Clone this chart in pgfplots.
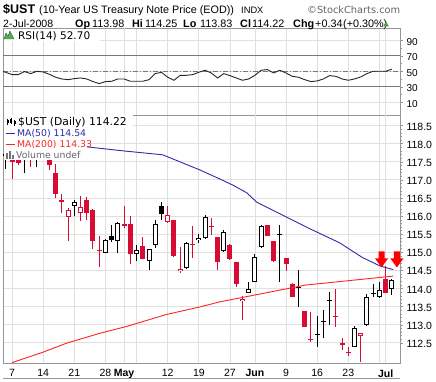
\documentclass[border=0pt]{standalone}
\usepackage{pgfplots}
\pgfplotsset{compat=1.18}
\usepackage{pgfplotstable}
\usepackage{fontspec}
\setmainfont{Liberation Sans}
\newfontfamily\dvs{DejaVu Sans}

\definecolor{cred}{RGB}{214,12,52}
\definecolor{maA}{RGB}{45,45,170}
\definecolor{maB}{RGB}{255,35,35}
\definecolor{gridc}{RGB}{224,224,224}
\definecolor{gridm}{RGB}{192,192,192}
\definecolor{axc}{RGB}{150,150,150}
\definecolor{rsiref}{RGB}{120,120,120}

\pgfdeclareplotmark{dnarrow}{%
  \pgfpathmoveto{\pgfpoint{-3pt}{8pt}}%
  \pgfpathlineto{\pgfpoint{3pt}{8pt}}%
  \pgfpathlineto{\pgfpoint{3pt}{1pt}}%
  \pgfpathlineto{\pgfpoint{6.5pt}{1pt}}%
  \pgfpathlineto{\pgfpoint{0pt}{-8pt}}%
  \pgfpathlineto{\pgfpoint{-6.5pt}{1pt}}%
  \pgfpathlineto{\pgfpoint{-3pt}{1pt}}%
  \pgfpathclose
  \pgfusepathqfill}

% black, close > open (hollow)
\pgfplotstableread{
i O H L C
4 117.60 117.90 117.34 117.70
5 117.70 117.95 117.62 117.80
10 116.27 116.44 116.00 116.40
15 114.99 115.36 114.97 115.34
17 115.31 115.83 114.97 115.81
20 114.95 115.20 114.75 115.06
22 114.76 115.10 114.52 115.09
23 115.20 115.88 115.13 115.77
28 114.56 115.29 114.55 115.26
30 115.34 115.49 115.25 115.40
31 115.39 116.02 115.37 115.98
34 115.02 115.60 115.00 115.55
38 113.87 114.19 113.86 113.99
39 114.19 114.95 114.17 114.86
40 115.14 115.75 115.12 115.72
55 112.39 112.96 112.37 112.91
57 112.99 113.84 112.96 113.76
59 113.75 114.18 113.74 113.95
61 113.98 114.25 113.83 114.22
}\bh
% black, close < open (filled)
\pgfplotstableread{
i O H L C
-1 117.70 117.80 117.31 117.65
2 117.70 117.82 117.19 117.66
16 115.45 115.75 115.29 115.35
24 116.29 116.38 115.88 116.05
43 115.49 115.75 114.19 115.47
46 114.04 114.52 113.48 114.02
49 112.75 113.23 112.39 112.72
50 113.09 113.40 112.62 113.07
51 113.68 113.90 112.99 113.66
58 113.87 114.13 113.76 113.85
}\bf
% red, close > open (hollow)
\pgfplotstableread{
i O H L C
9 115.98 116.21 115.30 116.16
11 116.07 116.56 115.86 116.26
25 115.84 116.29 115.80 116.02
27 114.47 115.15 114.43 114.55
37 113.64 113.80 113.14 113.72
56 112.68 112.76 111.98 112.76
}\rh
% red, close < open (filled)
\pgfplotstableread{
i O H L C
0 117.60 117.75 117.03 117.50
1 117.56 117.62 117.41 117.47
3 117.70 117.85 117.34 117.62
6 117.55 117.62 117.28 117.41
7 117.19 117.43 116.49 116.61
8 116.44 116.61 116.09 116.38
12 116.44 116.52 115.88 116.07
13 116.16 116.19 115.08 115.32
14 115.06 115.44 114.59 115.03
18 115.78 116.29 115.68 115.72
19 115.78 116.00 114.67 114.95
21 115.18 115.43 114.80 114.81
26 115.88 115.90 114.88 114.90
29 115.23 115.73 114.85 115.21
32 115.72 115.94 115.48 115.69
33 115.41 115.43 114.52 114.74
35 115.20 115.22 114.79 114.81
36 114.72 114.74 114.03 114.13
41 115.75 115.76 115.45 115.46
42 115.31 115.32 114.74 114.76
44 114.84 114.85 114.49 114.68
45 114.13 114.14 113.75 113.76
47 113.37 113.38 112.93 112.94
48 112.59 113.35 112.53 112.57
52 113.24 113.99 112.94 113.22
53 112.48 112.62 112.30 112.45
54 112.25 112.39 112.12 112.22
60 114.27 114.61 113.86 113.88
}\rf

\pgfplotsset{
  wick/.style={draw=none, no markers, forget plot, error bars/.cd, y dir=plus, y explicit, error mark=none, error bar style={draw=#1, line width=1pt}},
  body/.style={draw=none, no markers, forget plot, error bars/.cd, y dir=plus, y explicit, error mark=none, error bar style={draw=#1, line width=5pt}},
  inner/.style={draw=none, no markers, forget plot, error bars/.cd, y dir=plus, y explicit, error mark=none, error bar style={draw=white, line width=3pt}},
  common/.style={
    scale only axis, anchor=south west, width=397pt,
    xmin=-1.45, xmax=62.3,
    axis line style={axc},
    xtick={0,5,10,15,18,20,25,30,35,39,44,49,54,59,60},
    x tick style={draw=none},
    xmajorgrids, major x grid style={gridc, line width=0.8pt},
    extra x ticks={18,39,60}, extra x tick labels={},
    extra x tick style={grid=major, major grid style={gridm, line width=0.8pt}, tick style={draw=none}},
    ytick pos=right, yticklabel pos=right, tick align=outside,
    y tick style={axc}, major tick length=3pt, minor tick length=2pt,
    ymajorgrids, major y grid style={gridc, line width=0.8pt},
    clip mode=individual,
    scaled y ticks=false,
  },
}

\newcommand{\candleset}[3]{% table, colour, hollow?
  \addplot[wick=#2] table[x=i, y=L, y error expr=\thisrow{H}-\thisrow{L}] {#1};
  \addplot[body=#2] table[x=i, y expr={min(\thisrow{O},\thisrow{C})}, y error expr={max(abs(\thisrow{C}-\thisrow{O}),0.03)}] {#1};
  \ifx#3y
  \addplot[inner] table[x=i, y expr={min(\thisrow{O},\thisrow{C})+0.028}, y error expr={max(abs(\thisrow{C}-\thisrow{O})-0.056,0)}] {#1};
  \fi
}

\begin{document}
\begin{tikzpicture}[x=1pt,y=1pt]
\useasboundingbox (0,0) rectangle (436,382);
\fill[white] (0,0) rectangle (436,382);

% ---------- RSI panel ----------
\begin{axis}[common, at={(3pt,267pt)}, height=86.5pt,
  ymin=-6.4, ymax=105.2,
  ytick={10,30,50,70,90}, minor y tick num=1,
  xticklabels={},
  yticklabel style={font=\fontsize{10}{12}\selectfont, yshift=-1.5pt, /pgf/number format/assume math mode=true},
]
\addplot[rsiref, line width=0.9pt, forget plot] coordinates {(-1.45,70) (62.3,70)};
\addplot[rsiref, line width=0.9pt, forget plot] coordinates {(-1.45,30) (62.3,30)};
\addplot[rsiref, line width=0.7pt, dash pattern=on 5pt off 2pt on 1pt off 2pt, forget plot] coordinates {(-1.45,50) (62.3,50)};
\addplot[black!85, line width=0.9pt] coordinates {
(-1.45,49.5) (-1,48.7) (0,45.7) (1,45.7) (2,49.6) (3,47.0) (4,50.0) (5,49.1) (6,46.1) (7,42.3) (8,40.1) (9,39.2) (10,40.5) (11,41.4) (12,40.1) (13,36.7) (14,34.1) (15,36.7) (16,37.1) (17,40.1) (18,40.1) (19,37.1) (20,37.1) (21,37.1) (22,39.2) (23,47.0) (24,48.7) (25,42.3) (26,38.4) (27,44.8) (28,44.8) (29,45.7) (30,48.7) (31,51.3) (32,47.8) (33,41.4) (34,47.0) (35,44.4) (36,41.4) (37,38.4) (38,40.1) (39,44.8) (40,51.3) (41,52.2) (42,47.8) (43,51.3) (44,47.8) (45,43.5) (46,42.3) (47,39.2) (48,36.7) (49,37.5) (50,40.1) (51,44.4) (52,43.5) (53,40.1) (54,38.4) (55,40.1) (56,42.7) (57,47.0) (58,50.0) (59,50.0) (60,50.0) (61,52.7)
};
\end{axis}

% ---------- Price panel ----------
\begin{axis}[common, at={(3pt,19pt)}, height=248pt,
  ymin=111.94, ymax=118.79,
  ytick={112.5,113,113.5,114,114.5,115,115.5,116,116.5,117,117.5,118,118.5},
  minor y tick num=4,
  xticklabels={7,14,21,28,\textbf{May},,12,19,27,\textbf{Jun},9,16,23,,\textbf{Jul}},
  xticklabel style={font=\fontsize{10.5}{12}\selectfont},
  yticklabel style={font=\fontsize{10.5}{12}\selectfont, yshift=-1pt,
    /pgf/number format/.cd, fixed, fixed zerofill, precision=1, assume math mode=true},
]
\candleset{\rf}{cred}{n}
\candleset{\rh}{cred}{y}
\candleset{\bf}{black}{n}
\candleset{\bh}{black}{y}
\addplot[maB, line width=0.9pt] coordinates {
(0,111.95) (5.0,112.24) (8.8,112.49) (14.1,112.76) (18.4,112.95) (24.8,113.28) (30.2,113.49) (33.4,113.63) (46.2,114.06) (47.0,114.09) (61.2,114.34)};
\addplot[maA, line width=0.9pt] coordinates {
(12,117.91) (17.8,117.80) (24.2,117.69) (30.2,117.27) (33.4,117.02) (35.5,116.85) (37.7,116.64) (39.3,116.38) (43.5,116.02) (47.8,115.65) (52.6,115.26) (56.3,114.85) (59.1,114.62) (61.2,114.52)};
\addplot[only marks, mark=dnarrow, mark options={fill=red, draw=none}] coordinates {(59.34,114.80) (61.8,114.80)};
\end{axis}

% ---------- header ----------
\node[anchor=base west, inner sep=0] at (3,368.7) {\fontsize{12.5}{14}\selectfont\bfseries \$UST};
\node[anchor=base west, inner sep=0] at (39,368.7) {\fontsize{10.8}{13}\selectfont (10-Year US Treasury Note Price (EOD))};
\node[anchor=base west, inner sep=0] at (241,368.7) {\fontsize{9.3}{11}\selectfont INDX};
\node[anchor=base west, inner sep=0, text=black!60] at (307,368.7) {\dvs\fontsize{9.8}{11}\selectfont ©StockCharts.com};
\node[anchor=base west, inner sep=0] at (3,354.8) {\fontsize{10.6}{12}\selectfont 2-Jul-2008};
\node[anchor=base west, inner sep=0] at (75,354.8) {\fontsize{10.8}{12}\selectfont\bfseries Op};
\node[anchor=base west, inner sep=0] at (92,354.8) {\fontsize{10.8}{12}\selectfont 113.98};
\node[anchor=base west, inner sep=0] at (132,354.8) {\fontsize{10.8}{12}\selectfont\bfseries Hi};
\node[anchor=base west, inner sep=0] at (145,354.8) {\fontsize{10.8}{12}\selectfont 114.25};
\node[anchor=base west, inner sep=0] at (183,354.8) {\fontsize{10.8}{12}\selectfont\bfseries Lo};
\node[anchor=base west, inner sep=0] at (200,354.8) {\fontsize{10.8}{12}\selectfont 113.83};
\node[anchor=base west, inner sep=0] at (240,354.8) {\fontsize{10.8}{12}\selectfont\bfseries Cl};
\node[anchor=base west, inner sep=0] at (252,354.8) {\fontsize{10.8}{12}\selectfont 114.22};
\node[anchor=base west, inner sep=0] at (293,354.8) {\fontsize{10.8}{12}\selectfont\bfseries Chg};
\node[anchor=base west, inner sep=0] at (315,354.8) {\fontsize{10.8}{12}\selectfont +0.34};
\node[anchor=base west, inner sep=0] at (343,354.8) {\fontsize{10.8}{12}\selectfont (+0.30\%)};
\fill[green!45!black!70] (383,355.5) -- (389,355.5) -- (386,360.5) -- cycle;

% ---------- RSI label ----------
\fill[white] (3.5,341) rectangle (100,352.5);
\filldraw[fill=green!40!gray, draw=black!70, line width=0.4pt] (4,343) -- (6,349) -- (8,346) -- (10,351) -- (14,343) -- cycle;
\node[anchor=west, inner sep=0] at (18,346) {\dvs\fontsize{10.5}{12}\selectfont RSI(14) 52.70};

% ---------- price legend ----------
\fill[white] (3.5,254) rectangle (133,266.5);
\fill[white] (3.5,243) rectangle (83,254);
\fill[white] (3.5,232) rectangle (87,243);
\fill[white] (3.5,221.5) rectangle (80,232);
\draw[black, line width=0.8pt] (7.5,263) -- (7.5,257);
\fill[black] (6.5,258.5) rectangle (8.5,261.5);
\draw[black, line width=0.8pt] (11,264) -- (11,257.5);
\fill[black] (10,259) rectangle (12,263);
\draw[black, line width=0.8pt] (14.5,262) -- (14.5,256);
\fill[black] (13.5,257.5) rectangle (15.5,260.5);
\node[anchor=west, inner sep=0] at (18,259.5) {\dvs\fontsize{10.8}{12}\selectfont \$UST (Daily) 114.22};
\draw[maA, line width=1.3pt] (6,248.5) -- (15,248.5);
\node[anchor=west, inner sep=0, text=maA] at (17,248.5) {\dvs\fontsize{9.3}{11}\selectfont MA(50) 114.54};
\draw[maB, line width=1.3pt] (6,237.5) -- (15,237.5);
\node[anchor=west, inner sep=0, text=maB] at (17,237.5) {\dvs\fontsize{9.3}{11}\selectfont MA(200) 114.33};
\fill[black!55] (6,223) rectangle (8,229);
\fill[black!55] (9,223) rectangle (11,231);
\fill[black!55] (12,223) rectangle (14,227);
\node[anchor=west, inner sep=0, text=black!60] at (16,227) {\dvs\fontsize{9.3}{11}\selectfont Volume undef};

% bottom line (next panel)
\draw[axc, line width=0.8pt] (3,3.5) -- (400,3.5);
\end{tikzpicture}
\end{document}
